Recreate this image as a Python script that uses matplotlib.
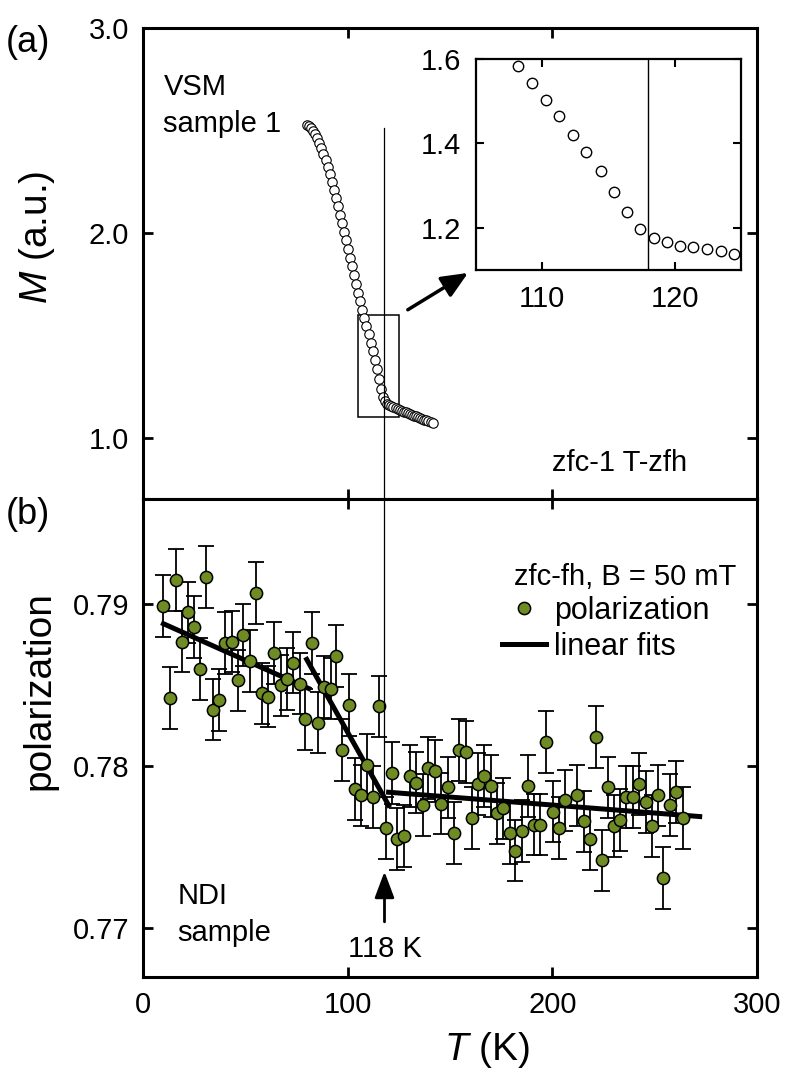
import numpy as np
import matplotlib
matplotlib.use("Agg")
import matplotlib.pyplot as plt
from matplotlib.patches import Rectangle

plt.rcParams['font.family'] = ['Liberation Sans', 'DejaVu Sans']
plt.rcParams['mathtext.fontset'] = 'custom'
plt.rcParams['mathtext.it'] = 'Liberation Sans:italic'
plt.rcParams['mathtext.rm'] = 'Liberation Sans'

# (a) VSM magnetization, zfc-1 T-zfh
T_vsm = [80.2, 81.2, 82.2, 83.2, 84.2, 85.2, 86.2, 87.2, 88.2, 89.2,
         90.2, 91.2, 92.2, 93.2, 94.2, 95.2, 96.2, 97.2, 98.2, 99.2,
         100.2, 101.2, 102.2, 103.2, 104.2, 105.2, 106.2, 107.2, 108.2, 109.2,
         110.3, 111.3, 112.3, 113.3, 114.4, 115.4, 116.4, 117.4, 118.4, 119.4,
         120.4, 121.4, 122.4, 123.5, 124.5, 125.5, 126.5, 127.5, 128.5, 129.5,
         130.5, 131.5, 132.5, 133.5, 134.5, 135.5, 136.5, 137.5, 138.5, 139.5,
         140.5, 141.5]
M_vsm = [2.527, 2.521, 2.511, 2.498, 2.481, 2.461, 2.438, 2.412, 2.384, 2.353,
         2.320, 2.285, 2.248, 2.210, 2.170, 2.130, 2.089, 2.048, 2.006, 1.964,
         1.922, 1.879, 1.836, 1.793, 1.750, 1.708, 1.666, 1.625, 1.584, 1.544,
         1.504, 1.464, 1.421, 1.380, 1.334, 1.285, 1.237, 1.198, 1.177, 1.166,
         1.158, 1.155, 1.149, 1.144, 1.139, 1.135, 1.131, 1.127, 1.123, 1.119,
         1.115, 1.111, 1.107, 1.103, 1.099, 1.095, 1.091, 1.087, 1.084, 1.081,
         1.077, 1.073]

# (b) NDI polarization, zfc-fh B = 50 mT
T_pol = [9.8, 13.1, 16.0, 19.1, 22.1, 25.0, 28.1, 31.0, 34.0, 37.3,
         40.0, 43.3, 46.2, 49.0, 52.3, 55.2, 58.0, 61.3, 64.0, 67.2,
         70.4, 73.4, 76.6, 79.4, 82.4, 85.4, 88.4, 91.7, 94.5, 97.4,
         100.6, 103.6, 106.7, 109.6, 112.6, 115.4, 118.6, 121.6, 124.3, 127.6,
         130.5, 133.3, 136.6, 139.5, 142.8, 145.6, 148.9, 151.8, 154.6, 157.8,
         160.8, 163.9, 166.8, 169.8, 173.0, 175.8, 179.1, 182.0, 185.1, 188.1,
         191.0, 194.1, 197.1, 200.3, 203.3, 206.4, 212.1, 215.3, 218.6, 221.2,
         224.5, 227.3, 230.1, 233.3, 235.9, 239.2, 242.3, 245.6, 248.5, 251.5,
         254.0, 257.5, 260.4, 263.7]
pol = [0.7899, 0.7842, 0.7915, 0.7877, 0.7895, 0.7886, 0.7860, 0.7917, 0.7835, 0.7841,
       0.7876, 0.7877, 0.7853, 0.7881, 0.7865, 0.7907, 0.7845, 0.7843, 0.7870, 0.7850,
       0.7854, 0.7864, 0.7851, 0.7829, 0.7876, 0.7827, 0.7849, 0.7848, 0.7868, 0.7810,
       0.7838, 0.7786, 0.7782, 0.7801, 0.7781, 0.7837, 0.7762, 0.7796, 0.7755, 0.7757,
       0.7794, 0.7790, 0.7776, 0.7799, 0.7797, 0.7777, 0.7787, 0.7759, 0.7810, 0.7809,
       0.7768, 0.7789, 0.7794, 0.7788, 0.7771, 0.7774, 0.7759, 0.7748, 0.7760, 0.7788,
       0.7764, 0.7764, 0.7815, 0.7772, 0.7762, 0.7779, 0.7782, 0.7766, 0.7755, 0.7818,
       0.7742, 0.7787, 0.7763, 0.7767, 0.7781, 0.7781, 0.7789, 0.7778, 0.7763, 0.7782,
       0.7731, 0.7776, 0.7784, 0.7768]
pol_err = 0.0019

# linear fits (end points)
fit1_T, fit1_v = [10, 81], [0.7888, 0.7848]
fit2_T, fit2_v = [80, 120], [0.7866, 0.7776]
fit3_T, fit3_v = [120, 272], [0.7784, 0.7769]

T_c = 118
green = '#6e8b24'
fs = 21

fig = plt.figure(figsize=(7.86, 10.77), dpi=100)
ax1 = fig.add_axes([0.1819, 0.5367, 0.7812, 0.4373])
ax2 = fig.add_axes([0.1819, 0.0929, 0.7812, 0.4438])
axi = fig.add_axes([0.6056, 0.7493, 0.3372, 0.1959])

for ax in (ax1, ax2):
    ax.tick_params(direction='in', length=7, width=2, labelsize=fs,
                   top=True, right=True, pad=10)
    for s in ax.spines.values():
        s.set_linewidth(2.2)
axi.tick_params(direction='in', length=6, width=1.5, labelsize=fs,
                top=True, right=True, pad=11)
for s in axi.spines.values():
    s.set_linewidth(1.6)

# panel (a)
ax1.plot(T_vsm, M_vsm, 'o', ms=6.8, mfc='white', mec='black', mew=0.8)
ax1.plot([T_c, T_c], [2.51, 0.7], color='black', lw=0.9)
ax1.add_patch(Rectangle((105, 1.1), 20, 0.5, fill=False, ec='black', lw=1.1))
ax1.annotate('', xy=(158.8, 1.804), xytext=(129.4, 1.624),
             arrowprops=dict(arrowstyle='-|>,head_length=0.8,head_width=0.35',
                             color='black', lw=2.5, mutation_scale=20,
                             shrinkA=0, shrinkB=0))
ax1.set_xlim(0, 300)
ax1.set_ylim(0.7, 3.0)
ax1.set_xticks([0, 100, 200, 300])
ax1.set_xticklabels([])
ax1.set_yticks([1.0, 2.0, 3.0])
ax1.set_yticklabels(['1.0', '2.0', '3.0'])
ax1.set_ylabel(r'$\mathit{M}$ (a.u.)', fontsize=28)
ax1.yaxis.set_label_coords(-0.14, 0.556)
ax1.text(10, 2.71, 'VSM', fontsize=fs, va='center')
ax1.text(10, 2.53, 'sample 1', fontsize=fs, va='center')
ax1.text(200, 0.878, 'zfc-1 T-zfh', fontsize=fs, va='center')

# inset
axi.plot(T_vsm, M_vsm, 'o', ms=7.5, mfc='white', mec='black', mew=1.0)
axi.axvline(T_c, color='black', lw=1.0)
axi.set_xlim(105, 125)
axi.set_ylim(1.1, 1.6)
axi.set_xticks([110, 120])
axi.set_yticks([1.2, 1.4, 1.6])
axi.set_yticklabels(['1.2', '1.4', '1.6'])

# panel (b)
ax2.errorbar(T_pol, pol, yerr=pol_err, fmt='none', ecolor='black',
             elinewidth=1.3, capsize=6, capthick=1.3, zorder=2)
ax2.plot(fit1_T, fit1_v, color='black', lw=3.6, zorder=3)
ax2.plot(fit2_T, fit2_v, color='black', lw=3.6, zorder=3)
ax2.plot(fit3_T, fit3_v, color='black', lw=3.6, zorder=3, label='linear fits')
ax2.plot(T_pol, pol, 'o', ms=8.8, mfc=green, mec='black', mew=1.1, zorder=4,
         label='polarization')
ax2.plot([T_c, T_c], [0.7782, 0.7965], color='black', lw=0.9, zorder=5)
ax2.annotate('', xy=(T_c, 0.7735), xytext=(T_c, 0.7704),
             arrowprops=dict(arrowstyle='-|>,head_length=0.8,head_width=0.3',
                             color='black', lw=2, mutation_scale=20,
                             shrinkA=0, shrinkB=0))
ax2.text(T_c, 0.7687, '118 K', fontsize=fs, ha='center', va='center')
ax2.text(16.7, 0.7720, 'NDI', fontsize=fs, va='center')
ax2.text(16.7, 0.7697, 'sample', fontsize=fs, va='center')
ax2.text(290, 0.7917, 'zfc-fh, B = 50 mT', fontsize=fs, ha='right', va='center')
h, l = ax2.get_legend_handles_labels()
ax2.legend([h[1], h[0]], [l[1], l[0]], loc='upper left',
           bbox_to_anchor=(0.54, 0.855), frameon=False, fontsize=22,
           handlelength=1.45, handletextpad=0.25, labelspacing=0.2)
ax2.set_xlim(0, 300)
ax2.set_ylim(0.767, 0.7965)
ax2.set_xticks([0, 100, 200, 300])
ax2.set_yticks([0.77, 0.78, 0.79])
ax2.set_yticklabels(['0.77', '0.78', '0.79'])
ax2.set_ylabel('polarization', fontsize=28)
ax2.yaxis.set_label_coords(-0.14, 0.6)
ax2.set_xlabel(r'$\mathit{T}$ (K)', fontsize=28)
ax2.xaxis.set_label_coords(0.56, -0.11)

fig.text(0.036, 1 - 42 / 1077, '(a)', fontsize=26, ha='center', va='center')
fig.text(0.036, 1 - 515 / 1077, '(b)', fontsize=26, ha='center', va='center')

fig.savefig('out.png', dpi=100)
